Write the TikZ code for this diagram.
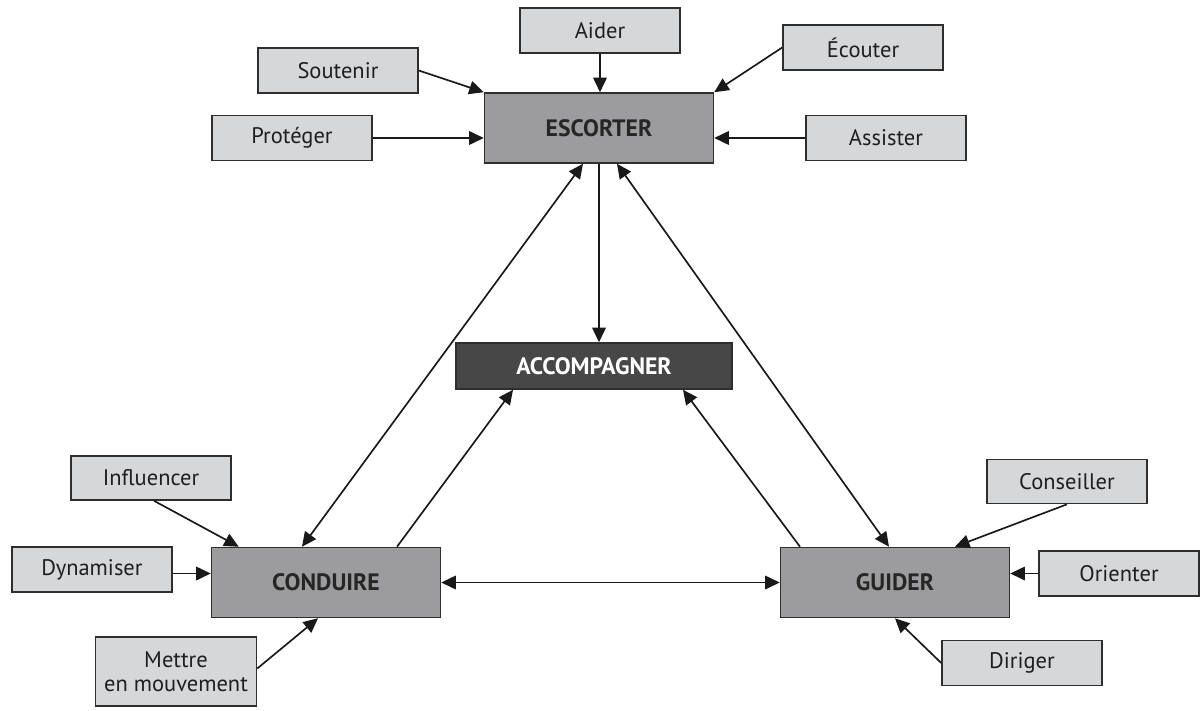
\documentclass[tikz,border=0pt]{standalone}
\usepackage{fontspec}
\setmainfont{PT Sans}
\usetikzlibrary{arrows.meta,calc}
\definecolor{smallfill}{HTML}{D5D7D9}
\definecolor{mainfill}{HTML}{9C9C9E}
\definecolor{darkfill}{HTML}{474747}
\definecolor{edge}{HTML}{2E2E2E}
\tikzset{
  smallbox/.style={draw=edge, line width=0.9pt, fill=smallfill, minimum width=3.2cm, minimum height=0.9cm, inner sep=0pt, align=center, font=\fontsize{12.8}{13.5}\selectfont, text=black!88},
  mainbox/.style={draw=edge, line width=0.9pt, fill=mainfill, minimum width=4.58cm, minimum height=1.4cm, inner sep=0pt, font=\fontsize{13.5}{15}\selectfont\bfseries, text=black!85},
  darkbox/.style={draw=edge, line width=0.9pt, fill=darkfill, minimum width=5.52cm, minimum height=0.92cm, inner sep=0pt, font=\fontsize{13.5}{15}\selectfont\bfseries, text=white},
  arr/.style={line width=0.95pt, draw=black!90, -{Triangle[length=2.9mm,width=2.7mm]}},
  darr/.style={line width=0.95pt, draw=black!90, {Triangle[length=2.9mm,width=2.7mm]}-{Triangle[length=2.9mm,width=2.7mm]}}
}
\begin{document}
\begin{tikzpicture}[x=0.02cm,y=-0.02cm]
\useasboundingbox[fill=white] (0,0) rectangle (1200,710);
% main boxes
\node[mainbox] (esc) at (599,128) {ESCORTER};
\node[darkbox] (acc) at (594,366) {ACCOMPAGNER};
\node[mainbox] (cond) at (326,582.5) {CONDUIRE};
\node[mainbox] (guid) at (895,582.5) {GUIDER};
% small boxes
\node[smallbox] (aide) at (600,30.5) {Aider};
\node[smallbox] (sout) at (338,70.5) {Soutenir};
\node[smallbox] (ecou) at (863,47.5) {Écouter};
\node[smallbox] (prot) at (292,138) {Protéger};
\node[smallbox] (assi) at (886,138) {Assister};
\node[smallbox, minimum height=0.88cm] (infl) at (151,478) {Influencer};
\node[smallbox] (dyna) at (92,569.5) {Dynamiser};
\node[smallbox, minimum width=3.22cm, minimum height=1.38cm] (mett) at (176,671.5) {Mettre\\en mouvement};
\node[smallbox, minimum height=0.88cm] (cons) at (1067,481.5) {Conseiller};
\node[smallbox] (orie) at (1119,573.5) {Orienter};
\node[smallbox] (diri) at (1022,663) {Diriger};
% connectors to ESCORTER
\draw[arr] (aide.south) -- (aide.south |- esc.north);
\draw[arr] (sout.east) -- (esc.north west);
\draw[arr] (ecou.west) -- (esc.north east);
\draw[arr] (prot.east) -- (prot.east -| esc.west);
\draw[arr] (assi.west) -- (assi.west -| esc.east);
% triangle
\draw[arr] (esc.south) -- (esc.south |- acc.north);
\draw[darr] ($(esc.south)+(-16,0)$) -- ($(cond.north)+(-24,0)$);
\draw[darr] ($(esc.south)+(18,0)$) -- ($(guid.north)+(-6,0)$);
\draw[arr] ($(cond.north)+(71,0)$) -- ($(acc.south)+(-81,0)$);
\draw[arr] ($(guid.north)+(-95,0)$) -- ($(acc.south)+(89,0)$);
\draw[darr] (cond.east) -- (guid.west);
% connectors to CONDUIRE
\draw[arr] ($(infl.south)+(3,0)$) -- ($(cond.north west)+(28,0)$);
\draw[arr] ($(dyna.east)+(0,4)$) coordinate (d1) -- (d1 -| cond.west);
\draw[arr] ($(mett.east)+(0,-3)$) -- ($(cond.south)+(-8,0)$);
% connectors to GUIDER
\draw[arr] (cons.south) -- ($(guid.north)+(60,0)$);
\draw[arr] (orie.west) -- (orie.west -| guid.east);
\draw[arr] (diri.west) -- (guid.south);
\end{tikzpicture}
\end{document}
